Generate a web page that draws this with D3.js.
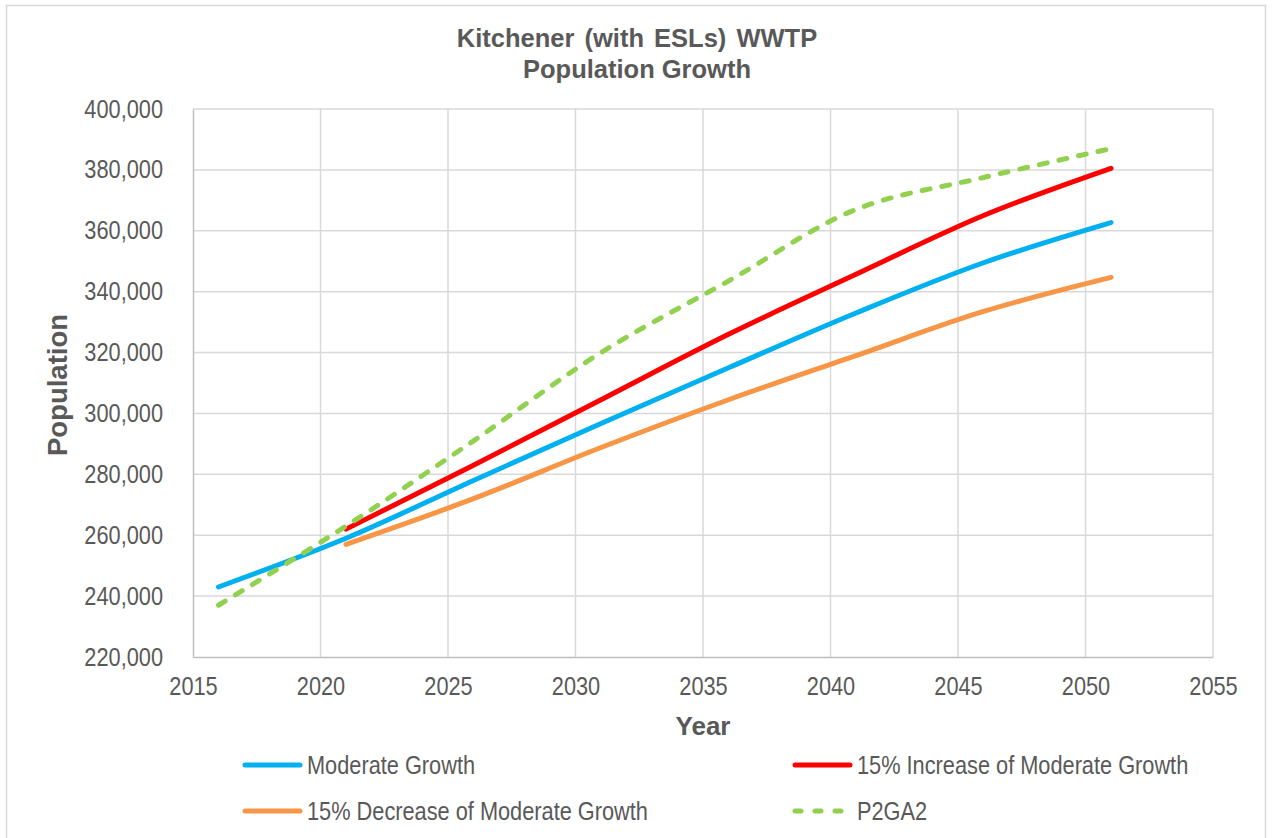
<!DOCTYPE html>
<html>
<head>
<meta charset="utf-8">
<script src="https://cdn.jsdelivr.net/npm/d3@7"></script>
<style>
  body { margin: 0; background: #fff; }
  svg text { fill: #595959; }
</style>
</head>
<body>
<div id="chart"></div>
<script>
// values
var moderateYears = [2016, 2021, 2026, 2031, 2036, 2041, 2046, 2051];
var moderate      = [243000, 259000, 278000, 296700, 315000, 333000, 349500, 362700];

var scenarioYears = [2021, 2026, 2031, 2036, 2041, 2046, 2051];
var increase15    = [262000, 283000, 304500, 326000, 345700, 365000, 380500];
var decrease15    = [257000, 272000, 288800, 304500, 319000, 333500, 344700];

var p2gaYears     = [2016, 2021, 2026, 2031, 2036, 2041, 2046, 2051];
var p2ga2         = [237000, 263000, 291000, 320000, 343500, 367000, 377500, 387000];

var xTicks = [2015, 2020, 2025, 2030, 2035, 2040, 2045, 2050, 2055];
var yTicks = [220000, 240000, 260000, 280000, 300000, 320000, 340000, 360000, 380000, 400000];

var series = [
  {name: "Moderate Growth", years: moderateYears, values: moderate, color: "#00B0F0", dash: null},
  {name: "15% Increase of Moderate Growth", years: scenarioYears, values: increase15, color: "#FF0000", dash: null},
  {name: "15% Decrease of Moderate Growth", years: scenarioYears, values: decrease15, color: "#F79646", dash: null},
  {name: "P2GA2", years: p2gaYears, values: p2ga2, color: "#92D050", dash: "8,12"}
];

var W = 1272, H = 838;
var plot = {left: 193, right: 1213, top: 109, bottom: 657};
var sans = "'Liberation Sans', Arial, sans-serif";
var squeeze = 0.87; // no narrow face installed, so condense the regular one

// condense a text selection horizontally to look like Arial Narrow
function narrow(sel) {
  sel.attr("font-family", sans).attr("font-size", 25)
     .each(function() {
       var len = this.getComputedTextLength();
       d3.select(this).attr("textLength", len * squeeze).attr("lengthAdjust", "spacingAndGlyphs");
     });
}

var svg = d3.select("#chart").append("svg").attr("width", W).attr("height", H);

// chart frame
svg.append("rect").attr("x", 6.5).attr("y", 5.5).attr("width", 1259).attr("height", 850)
   .attr("fill", "#fff").attr("stroke", "#d9d9d9").attr("stroke-width", 1.5);

var x = d3.scaleLinear().domain([2015, 2055]).range([plot.left, plot.right]);
var y = d3.scaleLinear().domain([220000, 400000]).range([plot.bottom, plot.top]);

// gridlines
var grid = svg.append("g").attr("class", "grid");
grid.selectAll(".gx").data(xTicks.slice(1)).enter().append("line")
    .attr("x1", d => x(d)).attr("x2", d => x(d))
    .attr("y1", plot.top).attr("y2", plot.bottom)
    .attr("stroke", "#d9d9d9").attr("stroke-width", 1.5);
grid.selectAll(".gy").data(yTicks.slice(1)).enter().append("line")
    .attr("x1", plot.left).attr("x2", plot.right)
    .attr("y1", d => y(d)).attr("y2", d => y(d))
    .attr("stroke", "#d9d9d9").attr("stroke-width", 1.5);

// axes
var yAxis = svg.append("g").attr("transform", "translate(" + plot.left + ",0)")
    .call(d3.axisLeft(y).tickValues(yTicks).tickFormat(d3.format(",")).tickSize(0).tickPadding(30));
var xAxis = svg.append("g").attr("transform", "translate(0," + plot.bottom + ")")
    .call(d3.axisBottom(x).tickValues(xTicks).tickFormat(d3.format("d")).tickSize(0).tickPadding(20));
[xAxis, yAxis].forEach(function(a) {
  a.select(".domain").attr("stroke", "#bfbfbf").attr("stroke-width", 1.5);
  a.selectAll("text").attr("fill", "#595959").call(narrow);
});

// series lines
var line = d3.line().curve(d3.curveCatmullRom.alpha(0.5))
    .x(d => x(d[0])).y(d => y(d[1]));
svg.append("g").selectAll("path").data(series).enter().append("path")
    .attr("d", s => line(d3.zip(s.years, s.values)))
    .attr("fill", "none")
    .attr("stroke", s => s.color)
    .attr("stroke-width", 5)
    .attr("stroke-linecap", "round")
    .attr("stroke-dasharray", s => s.dash);

// titles
svg.append("text").attr("x", 637).attr("y", 47).attr("text-anchor", "middle")
   .attr("font-family", sans).attr("font-weight", "bold").attr("font-size", 25.5)
   .attr("word-spacing", 3)
   .text("Kitchener (with ESLs) WWTP");
svg.append("text").attr("x", 637).attr("y", 78).attr("text-anchor", "middle")
   .attr("font-family", sans).attr("font-weight", "bold").attr("font-size", 25.5)
   .text("Population Growth");
svg.append("text").attr("x", 703).attr("y", 735).attr("text-anchor", "middle")
   .attr("font-family", sans).attr("font-weight", "bold").attr("font-size", 26)
   .text("Year");
svg.append("text").attr("transform", "translate(67,385) rotate(-90)").attr("text-anchor", "middle")
   .attr("font-family", sans).attr("font-weight", "bold").attr("font-size", 27.5)
   .text("Population");

// legend
var legendPos = [[243, 765], [793, 765], [243, 811], [793, 811]];
var legend = svg.append("g").selectAll("g").data(series).enter().append("g")
    .attr("transform", (s, i) => "translate(" + legendPos[i][0] + "," + legendPos[i][1] + ")");
legend.append("line").attr("x1", 2).attr("x2", 57).attr("y1", 0).attr("y2", 0)
    .attr("stroke", s => s.color).attr("stroke-width", 5).attr("stroke-linecap", "round")
    .attr("stroke-dasharray", s => s.dash ? "6,14" : null);
legend.append("text").attr("x", 64).attr("y", 9)
    .text(s => s.name)
    .call(narrow);
</script>
</body>
</html>
